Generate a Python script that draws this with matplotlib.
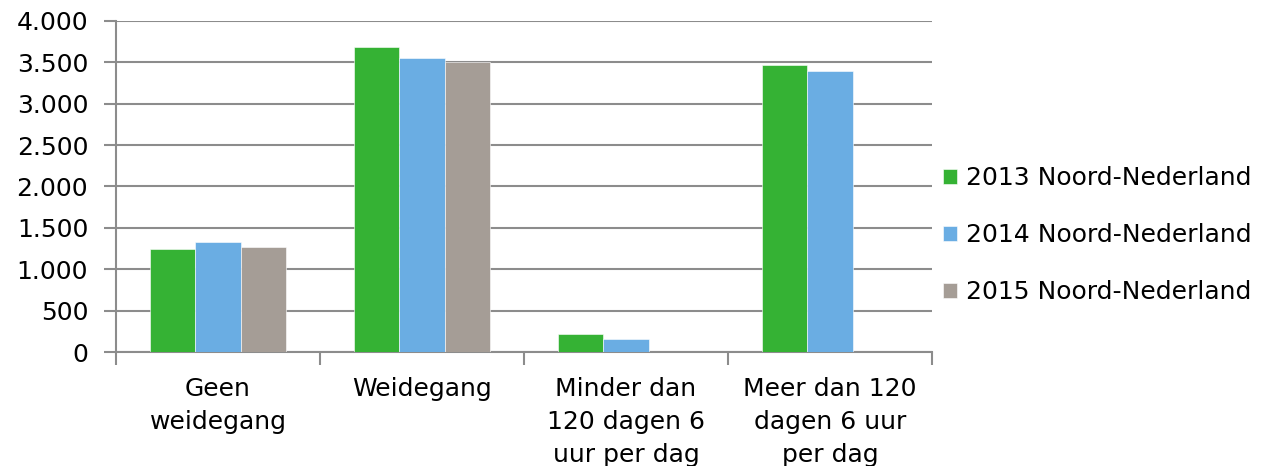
import numpy as np
import matplotlib.pyplot as plt
from matplotlib.ticker import FuncFormatter, FixedLocator

categories = ["Geen\nweidegang", "Weidegang", "Minder dan\n120 dagen 6\nuur per dag",
              "Meer dan 120\ndagen 6 uur\nper dag"]
series_names = ["2013 Noord-Nederland", "2014 Noord-Nederland", "2015 Noord-Nederland"]
values_2013 = [1245, 3685, 218, 3465]
values_2014 = [1330, 3553, 155, 3396]
values_2015 = [1270, 3505, 0, 0]
colors = ["#35B234", "#6AADE3", "#A59D96"]

plt.rcParams['font.family'] = ['DejaVu Sans']
fs = 18

fig = plt.figure(figsize=(12.74, 4.66), dpi=100)
ax = fig.add_axes([116 / 1274, 114 / 466, (932 - 116) / 1274, (352 - 21) / 466])

x = np.arange(len(categories))
w = 1 / 4.5
for i, (vals, name) in enumerate(zip([values_2013, values_2014, values_2015], series_names)):
    ax.bar(x + (i - 1) * w, vals, width=w, color=colors[i], label=name,
           edgecolor="white", linewidth=0.4, zorder=3)

ax.set_xlim(-0.5, 3.5)
ax.set_ylim(0, 4000)
ax.set_yticks(np.arange(0, 4001, 500))
ax.yaxis.set_major_formatter(FuncFormatter(lambda v, p: f"{int(v):,}".replace(",", ".")))
ax.grid(axis="y", color="#8C8C8C", linewidth=1.5, zorder=0)

ax.set_xticks(x)
ax.set_xticklabels(categories, linespacing=1.48)
ax.xaxis.set_minor_locator(FixedLocator([-0.5, 0.5, 1.5, 2.5, 3.5]))
ax.tick_params(axis="x", which="major", length=0, labelsize=fs, pad=18)
ax.tick_params(axis="x", which="minor", length=9, width=1.5, color="#8C8C8C")
ax.tick_params(axis="y", length=9, width=1.5, color="#8C8C8C", labelsize=fs, pad=11)

for s in ["top", "right"]:
    ax.spines[s].set_visible(False)
for s in ["left", "bottom"]:
    ax.spines[s].set_color("#8C8C8C")
    ax.spines[s].set_linewidth(1.5)

ax.legend(loc="center left", bbox_to_anchor=(943 / 1274, 231 / 466), bbox_transform=fig.transFigure,
          frameon=False, fontsize=fs, handlelength=0.55, handleheight=0.55, handletextpad=0.36,
          labelspacing=1.32, borderaxespad=0, borderpad=0)

fig.savefig("out.png", dpi=100)
